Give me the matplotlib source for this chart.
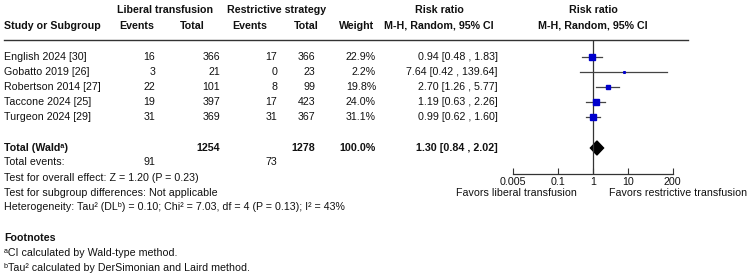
import numpy as np
import matplotlib
matplotlib.use("Agg")
import matplotlib.pyplot as plt

plt.rcParams['font.family'] = ['Liberation Sans', 'DejaVu Sans']
plt.rcParams['font.size'] = 7.7

# Study data
studies = ["English 2024 [30]", "Gobatto 2019 [26]", "Robertson 2014 [27]",
           "Taccone 2024 [25]", "Turgeon 2024 [29]"]
lib_events = [16, 3, 22, 19, 31]
lib_total = [366, 21, 101, 397, 369]
res_events = [17, 0, 8, 17, 31]
res_total = [366, 23, 99, 423, 367]
weights = [22.9, 2.2, 19.8, 24.0, 31.1]
rr = [0.94, 7.64, 2.70, 1.19, 0.99]
ci_lo = [0.48, 0.42, 1.26, 0.63, 0.62]
ci_hi = [1.83, 139.64, 5.77, 2.26, 1.60]

# Pooled result
tot_lib, tot_res = 1254, 1278
ev_lib, ev_res = 91, 73
pool_rr, pool_lo, pool_hi = 1.30, 0.84, 2.02

tick_vals = [0.005, 0.1, 1, 10, 200]
tick_labels = ["0.005", "0.1", "1", "10", "200"]

W, H = 750, 279
fig = plt.figure(figsize=(W / 100, H / 100), dpi=100)

# text layer in pixel coordinates
ax0 = fig.add_axes([0, 0, 1, 1])
ax0.set_xlim(0, W)
ax0.set_ylim(H, 0)
ax0.axis('off')

row_y = [57, 72, 87, 102, 117]
total_y = 148
bold = dict(fontweight='bold')

def t(x, y, s, ha='left', **kw):
    ax0.text(x, y, s, ha=ha, va='center', color='#111111', **kw)

# headers
t(165, 10, "Liberal transfusion", ha='center', **bold)
t(277, 10, "Restrictive strategy", ha='center', **bold)
t(439, 10, "Risk ratio", ha='center', **bold)
t(593, 10, "Risk ratio", ha='center', **bold)
t(4, 26, "Study or Subgroup", **bold)
t(137, 26, "Events", ha='center', **bold)
t(192, 26, "Total", ha='center', **bold)
t(250, 26, "Events", ha='center', **bold)
t(306, 26, "Total", ha='center', **bold)
t(357, 26, "Weight", ha='center', **bold)
t(439, 26, "M-H, Random, 95% CI", ha='center', **bold)
t(593, 26, "M-H, Random, 95% CI", ha='center', **bold)
ax0.plot([4, 688], [40, 40], color='#333333', lw=1.0)

for i, y in enumerate(row_y):
    t(4, y, studies[i])
    t(155, y, str(lib_events[i]), ha='right')
    t(220, y, str(lib_total[i]), ha='right')
    t(277, y, str(res_events[i]), ha='right')
    t(315, y, str(res_total[i]), ha='right')
    t(376, y, f"{weights[i]:.1f}%", ha='right')
    t(498, y, f"{rr[i]:.2f} [{ci_lo[i]:.2f} , {ci_hi[i]:.2f}]", ha='right')

t(4, total_y, "Total (Wald\u1d43)", **bold)
t(220, total_y, str(tot_lib), ha='right', **bold)
t(315, total_y, str(tot_res), ha='right', **bold)
t(376, total_y, f"{sum(weights):.1f}%", ha='right', **bold)
t(498, total_y, f"{pool_rr:.2f} [{pool_lo:.2f} , {pool_hi:.2f}]", ha='right', **bold)

t(4, 162, "Total events:")
t(155, 162, str(ev_lib), ha='right')
t(277, 162, str(ev_res), ha='right')
t(4, 178, "Test for overall effect: Z = 1.20 (P = 0.23)")
t(4, 193, "Test for subgroup differences: Not applicable")
t(4, 207, "Heterogeneity: Tau\u00b2 (DL\u1d47) = 0.10; Chi\u00b2 = 7.03, df = 4 (P = 0.13); I\u00b2 = 43%")
t(4, 238, "Footnotes", **bold)
t(4, 253, "\u1d43CI calculated by Wald-type method.")
t(4, 268, "\u1d47Tau\u00b2 calculated by DerSimonian and Laird method.")

# forest plot axes
x0, x1 = 513.3, 672.7
ytop, ybot = 40, 174
ax = fig.add_axes([x0 / W, (H - ybot) / H, (x1 - x0) / W, (ybot - ytop) / H])
ax.set_xscale('log')
ax.set_xlim(0.005, 200)
ax.set_ylim(ybot, ytop)
ax.patch.set_alpha(0)
for s in ['top', 'right', 'left']:
    ax.spines[s].set_visible(False)
ax.spines['bottom'].set_color('#333333')
ax.spines['bottom'].set_linewidth(0.9)
ax.set_yticks([])
ax.set_xticks(tick_vals)
ax.set_xticklabels(tick_labels)
ax.minorticks_off()
ax.tick_params(axis='x', direction='in', length=4, width=0.8, color='#333333',
               pad=2, labelsize=7.7, labelcolor='#111111')
ax.axvline(1, color='#333333', lw=0.9)

for i, y in enumerate(row_y):
    ax.plot([ci_lo[i], ci_hi[i]], [y, y], color='#444444', lw=0.9)
    ax.plot(rr[i], y, marker='s', ms=0.8 * np.sqrt(weights[i]),
            color='#0000cc', mec='#0000cc', ls='none')

ax.fill([pool_lo, pool_rr, pool_hi, pool_rr],
        [total_y, total_y - 7, total_y, total_y + 7], color='black')

t(577, 193, "Favors liberal transfusion", ha='right')
t(609, 193, "Favors restrictive transfusion")

fig.savefig("out.png", dpi=100)
